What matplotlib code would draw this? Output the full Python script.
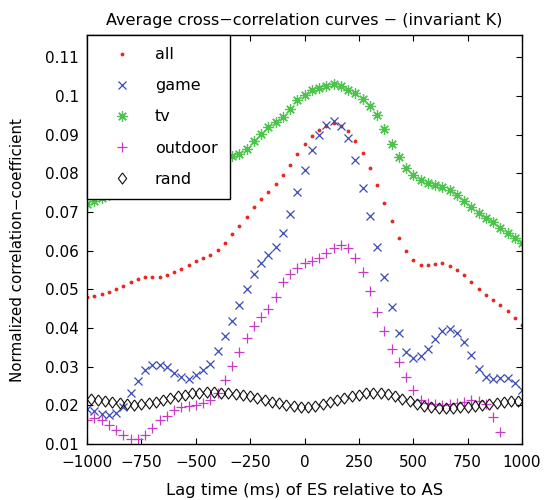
import matplotlib
matplotlib.use("Agg")
import matplotlib.pyplot as plt
import matplotlib.ticker as mticker
import numpy as np

# lag grid (ms)
lag = np.linspace(-1000, 1000, 61)
lag_rand = np.linspace(-983.3, 983.3, 60)

all_vals = [
    0.0479, 0.0484, 0.0488, 0.0492, 0.0500, 0.0508, 0.0519, 0.0526, 0.0532, 0.0532,
    0.0533, 0.0537, 0.0544, 0.0553, 0.0564, 0.0574, 0.0580, 0.0588, 0.0601, 0.0621,
    0.0642, 0.0663, 0.0687, 0.0714, 0.0735, 0.0753, 0.0772, 0.0795, 0.0823, 0.0851,
    0.0876, 0.0896, 0.0911, 0.0923, 0.0930, 0.0922, 0.0910, 0.0885, 0.0853, 0.0815,
    0.0771, 0.0723, 0.0676, 0.0632, 0.0598, 0.0577, 0.0563, 0.0562, 0.0565, 0.0567,
    0.0560, 0.0550, 0.0536, 0.0519, 0.0501, 0.0486, 0.0472, 0.0459, 0.0444, 0.0425,
    0.0409,
]
game = [
    0.0191, 0.0185, 0.0178, 0.0174, 0.0179, 0.0195, 0.0231, 0.0263, 0.0291, 0.0305,
    0.0305, 0.0298, 0.0284, 0.0274, 0.0269, 0.0278, 0.0291, 0.0308, 0.0341, 0.0380,
    0.0418, 0.0460, 0.0502, 0.0541, 0.0568, 0.0588, 0.0610, 0.0645, 0.0696, 0.0751,
    0.0808, 0.0861, 0.0900, 0.0926, 0.0935, 0.0923, 0.0891, 0.0834, 0.0763, 0.0690,
    0.0610, 0.0531, 0.0455, 0.0386, 0.0337, 0.0322, 0.0327, 0.0345, 0.0371, 0.0392,
    0.0398, 0.0387, 0.0364, 0.0331, 0.0294, 0.0273, 0.0267, 0.0271, 0.0271, 0.0257,
    0.0239,
]
tv = [
    0.0721, 0.0729, 0.0736, 0.0745, 0.0752, 0.0760, 0.0768, 0.0775, 0.0782, 0.0789,
    0.0796, 0.0802, 0.0808, 0.0815, 0.0822, 0.0828, 0.0834, 0.0839, 0.0842, 0.0843,
    0.0845, 0.0851, 0.0863, 0.0884, 0.0903, 0.0919, 0.0934, 0.0947, 0.0967, 0.0989,
    0.1004, 0.1015, 0.1021, 0.1027, 0.1030, 0.1026, 0.1017, 0.1008, 0.0992, 0.0974,
    0.0950, 0.0915, 0.0876, 0.0843, 0.0815, 0.0795, 0.0783, 0.0774, 0.0769, 0.0765,
    0.0756, 0.0744, 0.0729, 0.0714, 0.0698, 0.0685, 0.0674, 0.0659, 0.0646, 0.0634,
    0.0620,
]
outdoor = [
    0.0162, 0.0167, 0.0162, 0.0149, 0.0137, 0.0124, 0.0114, 0.0113, 0.0124, 0.0141,
    0.0161, 0.0173, 0.0188, 0.0197, 0.0198, 0.0202, 0.0207, 0.0214, 0.0231, 0.0265,
    0.0301, 0.0337, 0.0375, 0.0404, 0.0428, 0.0449, 0.0481, 0.0518, 0.0541, 0.0556,
    0.0567, 0.0574, 0.0582, 0.0595, 0.0608, 0.0615, 0.0608, 0.0582, 0.0546, 0.0495,
    0.0441, 0.0392, 0.0347, 0.0311, 0.0274, 0.0239, 0.0215, 0.0207, 0.0203, 0.0202,
    0.0203, 0.0207, 0.0209, 0.0214, 0.0211, 0.0203, 0.0171, 0.0130, 0.0070, 0.0040,
    0.0020,
]
rand = [
    0.0216, 0.0214, 0.0212, 0.0209, 0.0206, 0.0204, 0.0202, 0.0203, 0.0205, 0.0209,
    0.0214, 0.0219, 0.0224, 0.0228, 0.0231, 0.0233, 0.0234, 0.0234, 0.0233, 0.0231,
    0.0229, 0.0226, 0.0223, 0.0219, 0.0214, 0.0209, 0.0205, 0.0201, 0.0198, 0.0196,
    0.0197, 0.0199, 0.0203, 0.0208, 0.0213, 0.0218, 0.0224, 0.0228, 0.0232, 0.0233,
    0.0232, 0.0229, 0.0224, 0.0217, 0.0210, 0.0204, 0.0199, 0.0196, 0.0194, 0.0194,
    0.0194, 0.0195, 0.0196, 0.0198, 0.0201, 0.0204, 0.0207, 0.0209, 0.0210, 0.0211,
]

RED = "#e52a22"
BLUE = "#3a4ab4"
GREEN = "#4cc44c"
MAGENTA = "#c63cc6"
BLACK = "#111111"

# matlab-ish diamond: a bit taller than wide
DIAMOND = [(0, 1), (0.75, 0), (0, -1), (-0.75, 0), (0, 1)]

plt.rcParams.update({
    "font.family": ["DejaVu Sans"],
    "font.size": 11,
    "axes.linewidth": 1.0,
    "xtick.direction": "in",
    "ytick.direction": "in",
    "xtick.top": True,
    "ytick.right": True,
    "xtick.major.size": 4,
    "ytick.major.size": 4,
})

fig = plt.figure(figsize=(5.44, 5.0), dpi=100)
ax = fig.add_axes([87 / 544, 56 / 500, 435 / 544, 409 / 500])

ax.plot(lag, all_vals, ".", color=RED, ms=3.5, label="all")
ax.plot(lag, game, "x", color=BLUE, ms=6, mew=0.9, label="game")
ax.plot(lag, tv, marker=(8, 2, 0), ls="none", color=GREEN, ms=7.5, mew=0.9, label="tv")
ax.plot(lag, outdoor, "+", color=MAGENTA, ms=7, mew=0.9, label="outdoor")
ax.plot(lag_rand, rand, marker=DIAMOND, ls="none", color=BLACK, ms=8, mew=0.8,
        mfc="none", label="rand")

ax.set_xlim(-1000, 1000)
ax.set_ylim(0.01, 0.1158)
ax.set_xticks(np.arange(-1000, 1001, 250))
ax.set_yticks(np.arange(0.01, 0.111, 0.01))
ax.yaxis.set_major_formatter(mticker.FuncFormatter(lambda v, _: f"{v:g}"))
ax.tick_params(axis="y", labelsize=11, pad=6)
ax.tick_params(axis="x", labelsize=11, pad=8)

ax.set_title("Average cross\u2212correlation curves \u2212 (invariant K)", fontsize=11.6, pad=7)
ax.set_xlabel("Lag time (ms) of ES relative to AS", fontsize=11.8, labelpad=9)
ax.set_ylabel("Normalized correlation\u2212coefficient", fontsize=10.9)
ax.yaxis.set_label_coords(-0.143, 0.474)

leg = ax.legend(loc="upper left", numpoints=1, fontsize=11.5, fancybox=False,
                framealpha=1, edgecolor="black", borderaxespad=0,
                borderpad=0.76, handlelength=2.85, handletextpad=0.64,
                labelspacing=1.01)
leg.get_frame().set_linewidth(1.0)

fig.savefig("out.png", dpi=100)
